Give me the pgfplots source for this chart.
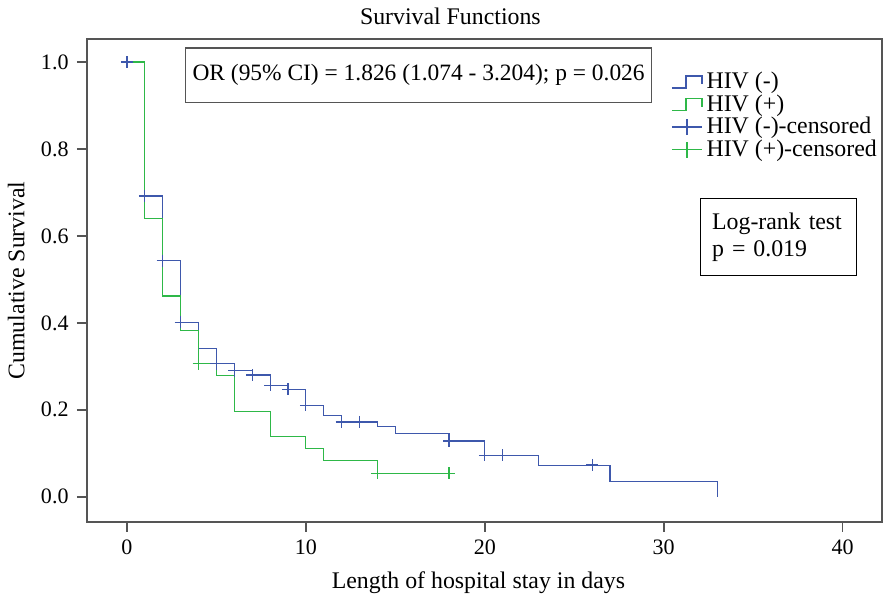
\documentclass[border=0pt]{standalone}
\usepackage{pgfplots}
\pgfplotsset{compat=1.18}
\usepackage{fontspec}
\setmainfont{Liberation Serif}
\definecolor{hivneg}{RGB}{62,88,172}
\definecolor{hivpos}{RGB}{46,184,72}
\definecolor{framec}{RGB}{85,85,85}
\pgfplotsset{
  steplegend/.style={legend image code/.code={
    \draw[##1] (0pt,-3pt) -- (7pt,-3pt) -- (7pt,3pt) -- (15pt,3pt) -- (15pt,-1pt);}},
  censlegend/.style={legend image code/.code={
    \draw[##1] (0pt,0pt) -- (15pt,0pt); \draw[##1] (7.5pt,-4pt) -- (7.5pt,4pt);}},
}
\begin{document}
\fontsize{11.9}{14}\selectfont
\begin{tikzpicture}
\begin{axis}[
  scale only axis,
  width=397pt, height=241pt,
  xmin=-2.24, xmax=42.2,
  ymin=-0.0576, ymax=1.053,
  xtick={0,10,20,30,40},
  ytick={0,0.2,0.4,0.6,0.8,1.0},
  /pgf/number format/assume math mode=true,
  yticklabel style={/pgf/number format/fixed,/pgf/number format/fixed zerofill,/pgf/number format/precision=1},
  tick label style={font=\fontsize{11}{13}\selectfont},
  tick align=outside,
  xtick pos=bottom, ytick pos=left,
  major tick length=5pt,
  every tick/.style={framec, line width=0.8pt},
  axis line style={framec, line width=1pt},
  title={Survival Functions},
  title style={yshift=-3pt, xshift=-17pt, font=\fontsize{11.9}{14}\selectfont},
  xlabel={Length of hospital stay in days},
  xlabel style={xshift=-3pt},
  ylabel={Cumulative Survival},
  label style={font=\fontsize{11.9}{14}\selectfont},
  legend style={draw=none, fill=none, at={(0.732,0.945)}, anchor=north west,
    font=\fontsize{11.9}{12}\selectfont, row sep=-2.8pt, inner sep=1pt,
    /tikz/every even column/.append style={column sep=1pt}},
  legend cell align=left,
  clip=false,
]
\addplot[const plot, hivneg, line width=0.6pt, forget plot] coordinates {
(0,1.0) (1,0.692) (2,0.543) (3,0.401) (4,0.341) (5,0.306) (6,0.290) (7,0.280)
(8,0.256) (9,0.247) (10,0.210) (11,0.186) (12,0.172) (14,0.161) (15,0.145)
(18,0.128) (20,0.095) (23,0.072) (27,0.035) (33,0.035) (33,0.0)};
\addplot[const plot, hivpos, line width=0.6pt, forget plot] coordinates {
(0,1.0) (1,0.641) (2,0.462) (3,0.383) (4,0.306) (5,0.278) (6,0.196) (8,0.138)
(10,0.110) (11,0.084) (14,0.054) (18,0.054)};
\addplot[only marks, mark=+, mark size=3pt, hivneg, line width=0.6pt, forget plot] coordinates {
(0,1.0) (1,0.692) (2,0.543) (3,0.401) (5,0.306) (6,0.290) (7,0.280) (8,0.256)
(9,0.247) (10,0.210) (12,0.172) (13,0.172) (18,0.128) (20,0.095) (21,0.095) (26,0.073)};
\addplot[only marks, mark=+, mark size=3pt, hivpos, line width=0.6pt, forget plot] coordinates {
(4,0.306) (14,0.054) (18,0.054)};
\addlegendimage{hivneg, line width=0.6pt, steplegend}
\addlegendentry{HIV (-)}
\addlegendimage{hivpos, line width=0.6pt, steplegend}
\addlegendentry{HIV (+)}
\addlegendimage{hivneg, line width=0.6pt, censlegend}
\addlegendentry{HIV (-)-censored}
\addlegendimage{hivpos, line width=0.6pt, censlegend}
\addlegendentry{HIV (+)-censored}
\node[draw=framec, line width=0.6pt, fill=white, inner sep=3.5pt, minimum height=27pt,
  font=\fontsize{11.7}{14}\selectfont] at (axis cs:16.3,0.970)
  {OR (95\% CI) = 1.826 (1.074 - 3.204); p = 0.026};
\node[draw=black, line width=0.6pt, fill=white, align=left, text width=66pt,
  inner xsep=6pt, inner ysep=6pt, minimum height=38.5pt,
  font=\fontsize{11.9}{13.5}\selectfont] at (axis cs:36.4,0.598)
  {Log-rank test\\p = 0.019};
\end{axis}
\end{tikzpicture}
\end{document}
